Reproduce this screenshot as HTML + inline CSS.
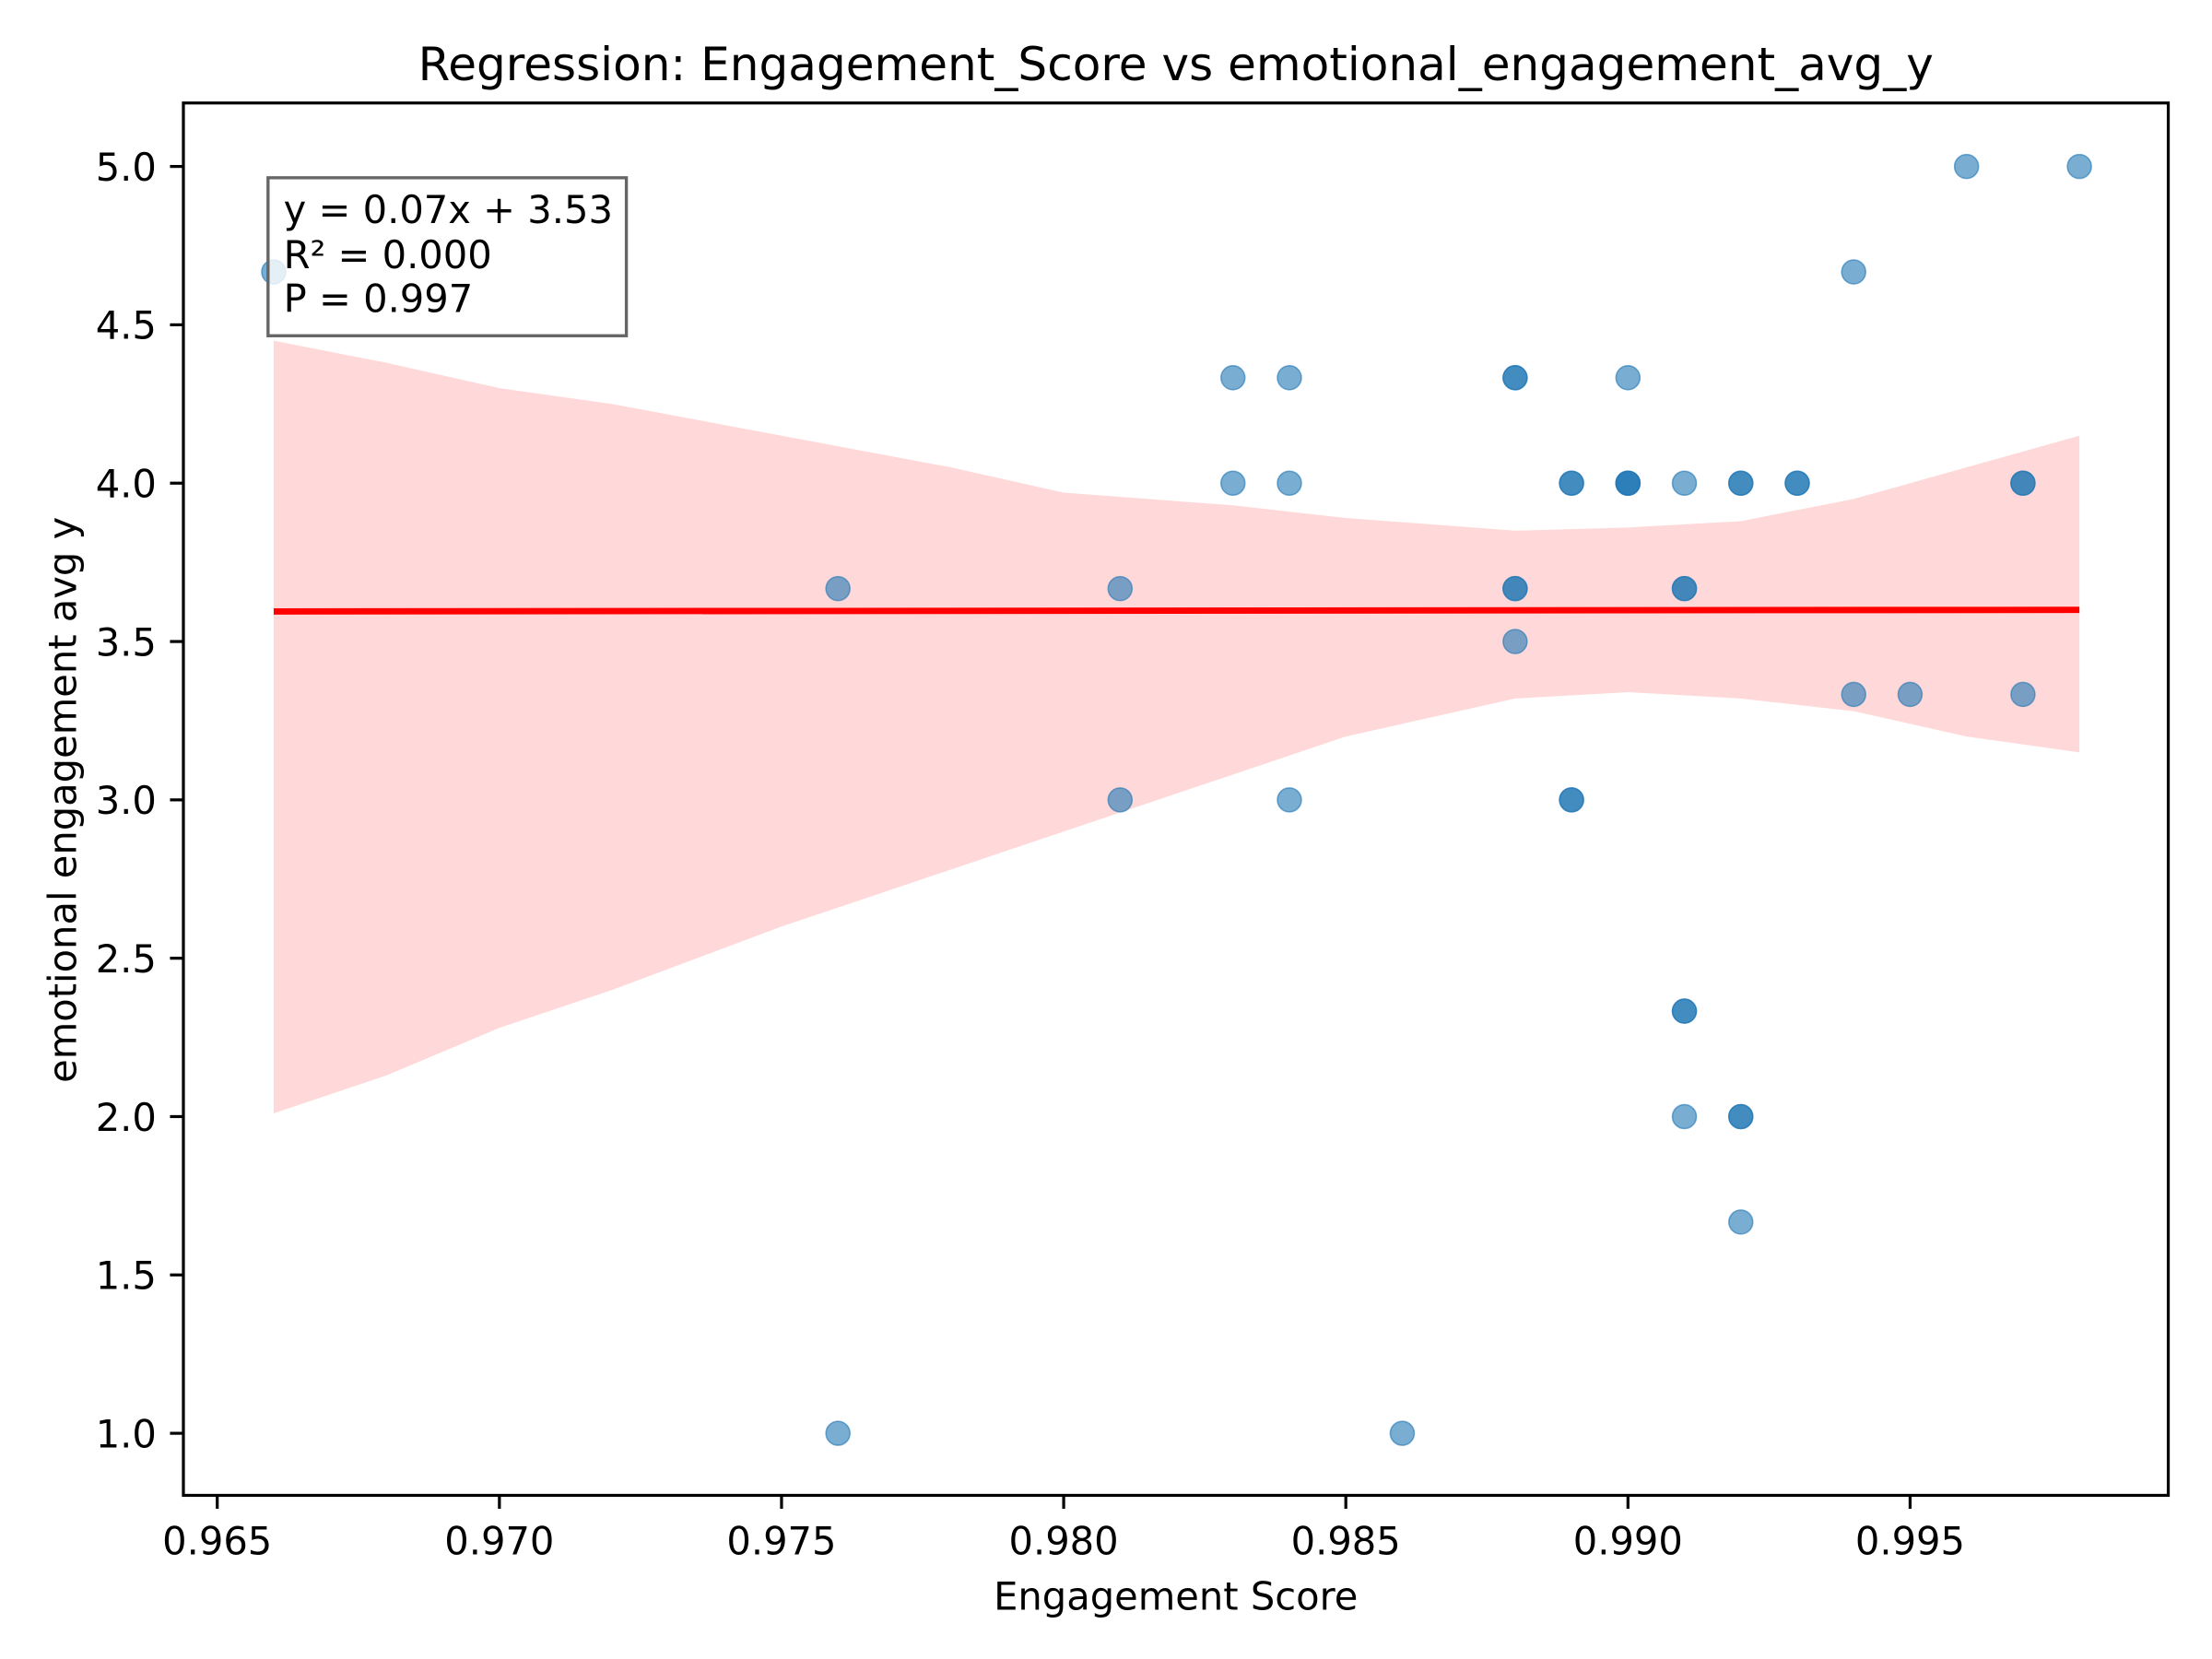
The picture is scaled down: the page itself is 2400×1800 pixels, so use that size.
<!DOCTYPE html>
<html><head><meta charset="utf-8"><style>
html,body{margin:0;padding:0;background:#fff;}
svg{display:block;font-family:"DejaVu Sans","Liberation Sans",sans-serif;}
</style></head><body>
<svg id="chart" width="2400" height="1800" viewBox="0 0 1568 1176" xmlns="http://www.w3.org/2000/svg">
<rect width="1568" height="1176" fill="#fff"/>
<text x="833.5" y="57" font-size="32.7" text-anchor="middle">Regression: Engagement_Score vs emotional_engagement_avg_y</text>
<g id="band"></g>
<g id="points"></g>
<g id="line"></g>
<rect x="130" y="73" width="1407" height="987" fill="none" stroke="#000" stroke-width="2.1"/>
<g id="xticks"></g>
<g id="yticks"></g>
<text x="833.5" y="1141" font-size="27.2" text-anchor="middle">Engagement Score</text>
<text x="0" y="0" font-size="27.2" text-anchor="middle" transform="translate(54,567) rotate(-90)">emotional engagement avg y</text>
<g>
<rect x="190" y="126" width="254" height="112" fill="#fff" fill-opacity="0.8" stroke="#666" stroke-width="2.2"/>
<text x="201" y="158" font-size="27.2">y = 0.07x + 3.53</text>
<text x="201" y="190" font-size="27.2">R² = 0.000</text>
<text x="201" y="221" font-size="27.2">P = 0.997</text>
</g>
</svg>
<script>
const xs=[0.966,0.976,0.976,0.981,0.981,0.983,0.983,0.984,0.984,0.984,0.986,0.988,0.988,0.988,0.988,0.988,0.989,0.989,0.989,0.989,0.990,0.990,0.990,0.990,0.991,0.991,0.991,0.991,0.991,0.991,0.992,0.992,0.992,0.992,0.992,0.993,0.993,0.994,0.994,0.995,0.996,0.997,0.997,0.997,0.998];
const ys=[4.667,3.667,1.0,3.667,3.0,4.333,4.0,4.333,4.0,3.0,1.0,4.333,4.333,3.667,3.667,3.5,4.0,4.0,3.0,3.0,4.333,4.0,4.0,4.0,4.0,3.667,3.667,2.333,2.333,2.0,4.0,4.0,2.0,2.0,1.667,4.0,4.0,4.667,3.333,3.333,5.0,4.0,4.0,3.333,5.0];
const bandX=[0.966,0.968,0.970,0.972,0.975,0.978,0.980,0.983,0.985,0.988,0.990,0.992,0.994,0.996,0.998];
const bandUpper=[4.45,4.38,4.30,4.25,4.15,4.05,3.97,3.93,3.89,3.85,3.86,3.88,3.95,4.05,4.15];
const bandLower=[2.01,2.13,2.28,2.40,2.60,2.78,2.90,3.08,3.20,3.32,3.34,3.32,3.28,3.20,3.15];
const lineX=[0.966,0.998];
const lineY=[3.595,3.60];
const xTickVals=[0.965,0.970,0.975,0.980,0.985,0.990,0.995];
const xTickLabels=["0.965","0.970","0.975","0.980","0.985","0.990","0.995"];
const yTickVals=[1.0,1.5,2.0,2.5,3.0,3.5,4.0,4.5,5.0];
const yTickLabels=["1.0","1.5","2.0","2.5","3.0","3.5","4.0","4.5","5.0"];
const NS="http://www.w3.org/2000/svg";
const X=v=>154+(v-0.965)*40000;
const Y=v=>1016-(v-1.0)*224.5;
function mk(t,a,p){const e=document.createElementNS(NS,t);for(const k in a)e.setAttribute(k,a[k]);p.appendChild(e);return e;}
let d="M"+bandX.map((x,i)=>X(x)+","+Y(bandUpper[i])).join(" L");
for(let i=bandX.length-1;i>=0;i--)d+=" L"+X(bandX[i])+","+Y(bandLower[i]);
const band=mk("path",{d:d+"Z",fill:"#ffb3b3","fill-opacity":"0.5"},document.getElementById("band"));


const pg=document.getElementById("points");
xs.forEach((x,i)=>{const c=mk("circle",{cx:X(x),cy:Y(ys[i]),r:8.5,fill:"#1f77b4","fill-opacity":"0.6",stroke:"#1f77b4","stroke-opacity":"0.6","stroke-width":"1"},pg);

});
const ln=mk("line",{x1:X(lineX[0]),y1:Y(lineY[0]),x2:X(lineX[1]),y2:Y(lineY[1]),stroke:"#ff0000","stroke-width":"4.5"},document.getElementById("line"));


const xg=document.getElementById("xticks");
xTickVals.forEach((v,i)=>{mk("line",{x1:X(v),y1:1060,x2:X(v),y2:1069.5,stroke:"#000","stroke-width":"2.1"},xg);
const t=mk("text",{x:X(v),y:1102,"font-size":"27.2","text-anchor":"middle"},xg);t.textContent=xTickLabels[i];

});
const yg=document.getElementById("yticks");
yTickVals.forEach((v,i)=>{mk("line",{x1:120.5,y1:Y(v),x2:130,y2:Y(v),stroke:"#000","stroke-width":"2.1"},yg);
const t=mk("text",{x:111,y:Y(v)+10,"font-size":"27.2","text-anchor":"end"},yg);t.textContent=yTickLabels[i];

});
</script>
</body></html>
